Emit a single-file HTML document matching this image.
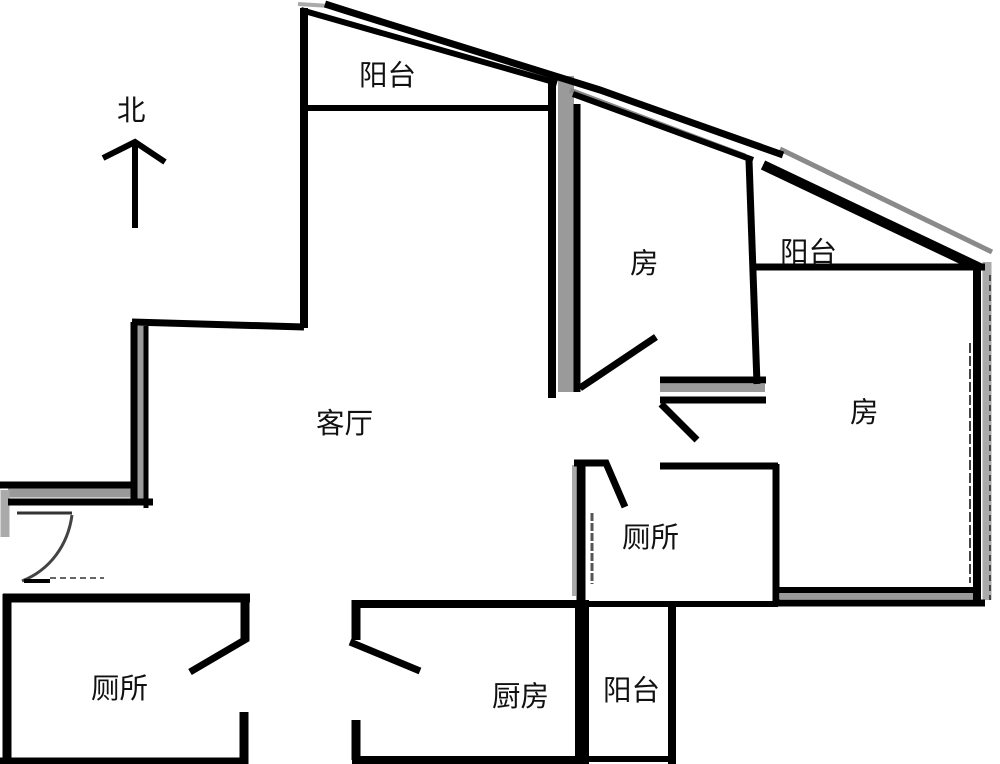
<!DOCTYPE html>
<html><head><meta charset="utf-8"><style>
html,body{margin:0;padding:0;background:#fff;width:1000px;height:764px;overflow:hidden}
svg{display:block}
text{font-family:"Liberation Sans","Noto Sans CJK SC",sans-serif;font-size:28.5px;fill:#111}
</style></head><body>
<svg width="1000" height="764" viewBox="0 0 1000 764" xmlns="http://www.w3.org/2000/svg">
<rect width="1000" height="764" fill="#fff"/>
<g fill="none" stroke-linecap="butt">
<!-- grey hatched walls -->
<g stroke="#9a9a9a">
<path d="M566 76V392" stroke-width="16"/>
<path d="M140 326V500" stroke-width="9"/>
<path d="M8 493H135" stroke-width="9"/>
<path d="M5 490V537" stroke-width="9" stroke="#aaa"/>
<path d="M660 388H765" stroke-width="8"/>
<path d="M780 596H978" stroke-width="6"/>
<path d="M574 465V596" stroke-width="4" stroke="#aaa"/>
<path d="M780 149L992 252" stroke-width="5" stroke="#8a8a8a"/>
<path d="M987 262V600" stroke-width="9" stroke="#aaa"/>
<path d="M570 90L745 156" stroke-width="5" stroke="#888"/>
<path d="M298 4L330 6" stroke-width="4" stroke="#aaa"/>
</g>
<g stroke="#000">
<!-- top sloped wall -->
<path d="M325 4L347 11L600 90L783 155" stroke-width="7"/>
<path d="M301 10L557 83" stroke-width="6"/>
<path d="M573 94L753 160" stroke-width="6"/>
<path d="M763 165L980 268" stroke-width="10"/>
<!-- balcony 1 -->
<path d="M304 8V328" stroke-width="8"/>
<path d="M304 108H552" stroke-width="6"/>
<path d="M552 80V398" stroke-width="8"/>
<path d="M577 104V392" stroke-width="7"/>
<!-- NW outline -->
<path d="M132 322L304 327" stroke-width="7"/>
<path d="M134 322V500" stroke-width="7"/>
<path d="M0 485H134" stroke-width="7"/>
<path d="M8 502H153" stroke-width="7"/>
<path d="M146 326V508" stroke-width="5"/>
<!-- room doors -->
<path d="M580 388L656 337" stroke-width="7"/>
<path d="M660 380H766" stroke-width="7"/>
<path d="M660 400H766" stroke-width="7"/>
<path d="M661 404L697 440" stroke-width="7"/>
<!-- middle room walls -->
<path d="M749 160L757 384" stroke-width="7"/>
<path d="M755 267H985" stroke-width="7"/>
<path d="M977 268V604" stroke-width="8"/>
<path d="M775 590H975" stroke-width="6"/>
<path d="M775 603H985" stroke-width="7"/>
<path d="M970 343V583" stroke-width="2" stroke="#444" stroke-dasharray="10 3"/>
<path d="M990 275V600" stroke-width="2" stroke="#444" stroke-dasharray="6 4"/>
<!-- toilet centre -->
<path d="M660 466H778" stroke-width="7"/>
<path d="M776 464V606" stroke-width="7"/>
<path d="M574 463H606L625 507" stroke-width="7"/>
<path d="M581 463V600" stroke-width="9"/>
<path d="M581 604H778" stroke-width="6"/>
<path d="M592 513V584" stroke-width="3" stroke="#555" stroke-dasharray="8 2"/>
<!-- kitchen -->
<path d="M352 604H580" stroke-width="8"/>
<path d="M582 600V764" stroke-width="14"/>
<path d="M672 605V764" stroke-width="8"/>
<path d="M356 600V640" stroke-width="9"/>
<path d="M350 642L420 671" stroke-width="7"/>
<path d="M356 720V760" stroke-width="9"/>
<path d="M352 760H585" stroke-width="8"/>
<path d="M585 759H675" stroke-width="6"/>
<!-- lower left room -->
<path d="M3 598H250" stroke-width="9"/>
<path d="M7 594V764" stroke-width="9"/>
<path d="M245 596V640" stroke-width="9"/>
<path d="M248 638L190 672" stroke-width="7"/>
<path d="M244 712V764" stroke-width="9"/>
<path d="M0 761H248" stroke-width="7"/>
<!-- entry door -->
<path d="M17 513H72" stroke-width="3" stroke="#333"/>
<path d="M72 515C68 545 50 570 22 581" stroke-width="3" stroke="#444"/>
<path d="M24 581H50" stroke-width="4"/>
<path d="M50 578H104" stroke-width="1.5" stroke="#333" stroke-dasharray="6 4"/>
<!-- north arrow -->
<path d="M135 143V228" stroke-width="6"/>
<path d="M103 158L135 142L165 162" stroke-width="6"/>
</g>
</g>
<text x="359" y="85">阳台</text>
<text x="780" y="262">阳台</text>
<text x="630" y="273">房</text>
<text x="850" y="422">房</text>
<text x="316" y="433">客厅</text>
<text x="622" y="547">厕所</text>
<text x="91" y="698">厕所</text>
<text x="492" y="706">厨房</text>
<text x="603" y="700">阳台</text>
<text x="117" y="120">北</text>
</svg>
</body></html>
